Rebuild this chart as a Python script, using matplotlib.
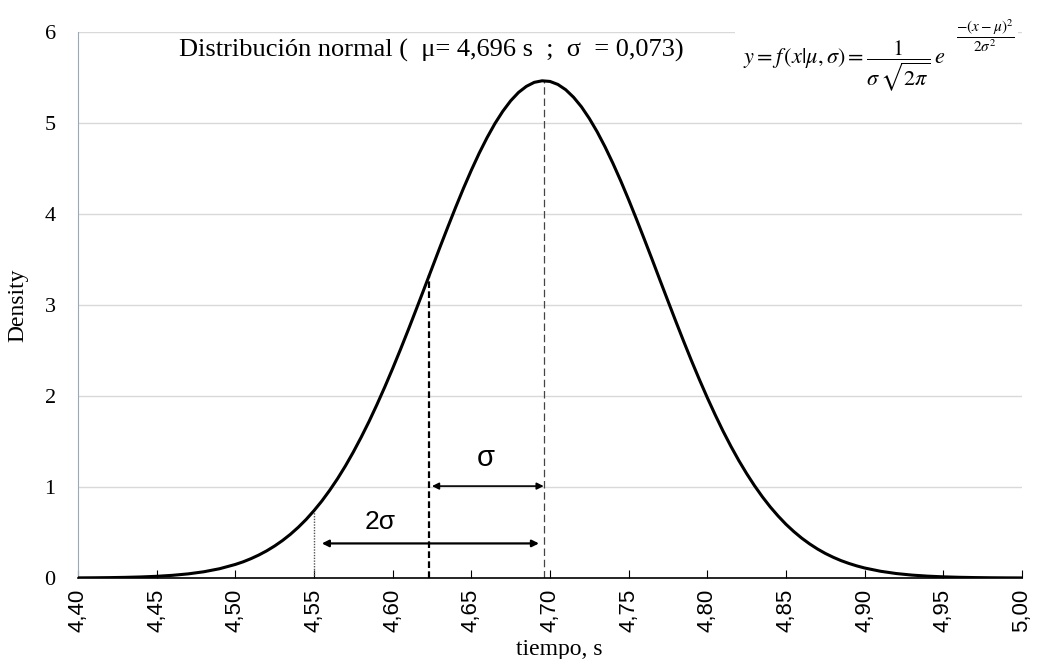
import matplotlib.pyplot as plt
import numpy as np

# tiempo (s) y densidad
tiempo = [4.40, 4.41, 4.42, 4.43, 4.44, 4.45, 4.46, 4.47, 4.48, 4.49,
          4.500, 4.505, 4.510, 4.515, 4.520, 4.525, 4.530, 4.535, 4.540, 4.545,
          4.550, 4.555, 4.560, 4.565, 4.570, 4.575, 4.580, 4.585, 4.590, 4.595,
          4.600, 4.605, 4.610, 4.615, 4.620, 4.625, 4.630, 4.635, 4.640, 4.645,
          4.650, 4.655, 4.660, 4.665, 4.670, 4.675, 4.680, 4.685, 4.690, 4.695,
          4.700, 4.705, 4.710, 4.715, 4.720, 4.725, 4.730, 4.735, 4.740, 4.745,
          4.750, 4.755, 4.760, 4.765, 4.770, 4.775, 4.780, 4.785, 4.790, 4.795,
          4.800, 4.805, 4.810, 4.815, 4.820, 4.825, 4.830, 4.835, 4.840, 4.845,
          4.850, 4.855, 4.860, 4.865, 4.870, 4.875, 4.880, 4.885, 4.890, 4.895,
          4.90, 4.91, 4.92, 4.93, 4.94, 4.95, 4.96, 4.97, 4.98, 4.99, 5.00]
densidad = [0.0015, 0.0025, 0.0043, 0.0072, 0.0117, 0.0187, 0.0294, 0.0453, 0.0686, 0.102,
            0.149, 0.178, 0.213, 0.253, 0.299, 0.352, 0.412, 0.480, 0.557, 0.643,
            0.740, 0.846, 0.964, 1.092, 1.232, 1.384, 1.547, 1.720, 1.905, 2.099,
            2.302, 2.513, 2.730, 2.953, 3.178, 3.405, 3.632, 3.854, 4.072, 4.282,
            4.481, 4.668, 4.839, 4.994, 5.129, 5.244, 5.336, 5.403, 5.447, 5.464,
            5.457, 5.424, 5.366, 5.283, 5.178, 5.050, 4.903, 4.738, 4.557, 4.363,
            4.157, 3.942, 3.721, 3.497, 3.269, 3.043, 2.819, 2.599, 2.385, 2.179,
            1.981, 1.793, 1.614, 1.447, 1.291, 1.147, 1.014, 0.892, 0.781, 0.681,
            0.590, 0.510, 0.438, 0.375, 0.319, 0.270, 0.228, 0.191, 0.160, 0.133,
            0.110, 0.0744, 0.0493, 0.0321, 0.0205, 0.0129, 0.0079, 0.0048, 0.0028, 0.0016, 0.0009]

mu = 4.696
sigma = 0.073
pico = 5.465          # altura en mu
y_sigma = 3.33        # curva en mu - sigma
y_2sigma = 0.74       # curva en mu - 2 sigma

xticks = [4.40, 4.45, 4.50, 4.55, 4.60, 4.65, 4.70, 4.75, 4.80, 4.85, 4.90, 4.95, 5.00]
xlabels = ['4,40', '4,45', '4,50', '4,55', '4,60', '4,65', '4,70', '4,75', '4,80', '4,85', '4,90', '4,95', '5,00']
yticks = [0, 1, 2, 3, 4, 5, 6]

serif = 'Liberation Serif'
sans = 'Liberation Sans'

fig = plt.figure(figsize=(10.38, 6.59), dpi=100)
ax = fig.add_axes([0.0751, 0.1229, 0.9095, 0.8285])

ax.plot(tiempo, densidad, c='black', lw=2.2, zorder=3, solid_joinstyle='round')

# lineas verticales
ax.plot([mu, mu], [0, pico], c='#444444', lw=0.9, ls=(0, (6, 3)), zorder=2)
ax.plot([mu - sigma, mu - sigma], [0, y_sigma], c='black', lw=1.6, ls=(0, (3, 1.5)), zorder=2)
ax.plot([mu - 2 * sigma, mu - 2 * sigma], [0, y_2sigma], c='#555555', lw=1.0, ls=(0, (1, 1)), zorder=2)

# flechas
ax.annotate('', xy=(mu - sigma + 0.002, 1.01), xytext=(mu, 1.01),
            arrowprops=dict(arrowstyle='<|-|>', color='black', lw=1.2, mutation_scale=10, shrinkA=0, shrinkB=0))
ax.annotate('', xy=(mu - 2 * sigma + 0.005, 0.38), xytext=(mu - 0.003, 0.38),
            arrowprops=dict(arrowstyle='<|-|>', color='black', lw=1.6, mutation_scale=10, shrinkA=0, shrinkB=0))
ax.text(4.659, 1.32, 'σ', fontsize=21, family=sans, ha='center', va='center')
ax.text(4.592, 0.62, '2σ', fontsize=19, family=sans, ha='center', va='center')

ax.text(4.6245, 5.80, 'Distribución normal (  μ= 4,696 s  ;  σ  = 0,073)', fontsize=19,
        family=serif, ha='center', va='center')

# formula: parte principal y exponente aparte
ax.text(4.887, 5.63, r'$y = f\,(x|\mu,\sigma) = \dfrac{1}{\sigma\,\sqrt{2\pi}}\,e$',
        fontsize=16, ha='center', va='center', math_fontfamily='stix',
        bbox=dict(facecolor='white', edgecolor='none', pad=6), zorder=4)
ax.text(4.9765, 5.96, r'$\dfrac{-(x-\mu)^2}{2\sigma^2}$',
        fontsize=11, ha='center', va='center', math_fontfamily='stix',
        bbox=dict(facecolor='white', edgecolor='none', pad=3), zorder=4)

ax.set_xlim(4.40, 5.00)
ax.set_ylim(0, 6)
ax.set_xticks(xticks)
ax.set_xticklabels(xlabels, rotation=90, fontsize=16, family=sans)
ax.set_yticks(yticks)
ax.set_yticklabels([str(v) for v in yticks], fontsize=16, family=serif)
ax.tick_params(axis='x', direction='in', length=6, width=0.8, pad=8)
ax.tick_params(axis='y', length=0, pad=16)
ax.yaxis.grid(True, color='#d9d9d9', lw=1)
ax.set_axisbelow(True)

ax.spines['top'].set_color('none')
ax.spines['right'].set_color('none')
ax.spines['left'].set_color('#9aa9b5')
ax.spines['bottom'].set_color('black')
ax.spines['bottom'].set_linewidth(1.2)

ax.set_xlabel('tiempo, s', fontsize=17, family=serif)
ax.xaxis.set_label_coords(0.51, -0.112)
ax.set_ylabel('Density', fontsize=17, family=serif)
ax.yaxis.set_label_coords(-0.053, 0.5)

plt.savefig('out.png', dpi=100)
plt.close()
